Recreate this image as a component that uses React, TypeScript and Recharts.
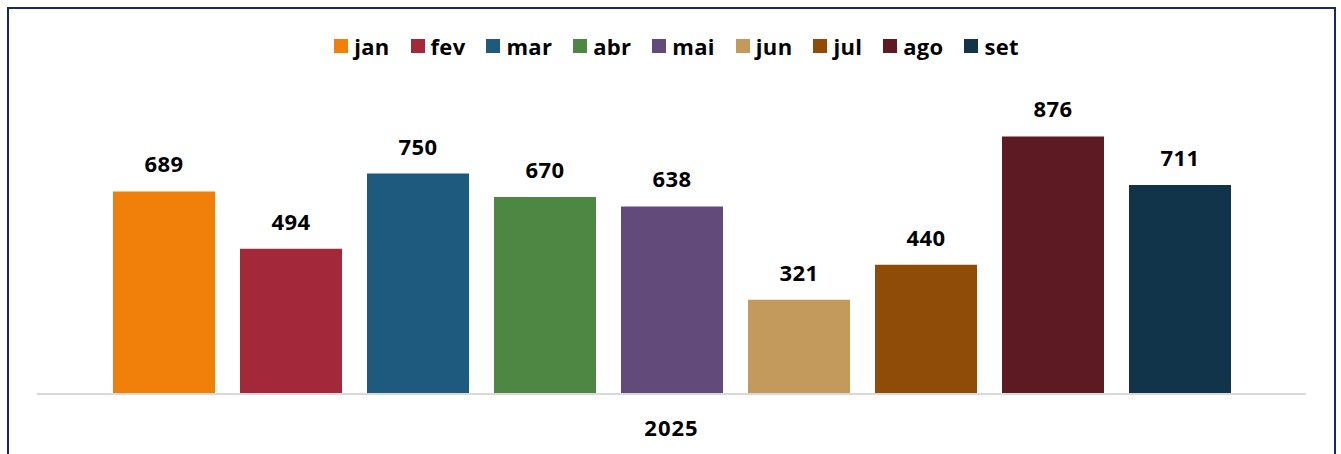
import React from 'react';
import { BarChart, Bar, XAxis, YAxis, Legend, LabelList } from 'recharts';

const months = ['jan', 'fev', 'mar', 'abr', 'mai', 'jun', 'jul', 'ago', 'set'];
const values = [689, 494, 750, 670, 638, 321, 440, 876, 711];
const colors = ['#f08009', '#a2283a', '#1e5a7e', '#4e8744', '#624a7a', '#c49a5c', '#8f4b08', '#5e1a22', '#12344b'];
const year = '2025';

const row: Record<string, string | number> = { year };
months.forEach((m, i) => {
  row[m] = values[i];
});
const data = [row];

const FONT = '"Open Sans", "Noto Sans", sans-serif';

const LegendRow = () => (
  <div style={{ display: 'flex', justifyContent: 'center', alignItems: 'center', height: 28, paddingLeft: 12 }}>
    {months.map((m, i) => (
      <div key={m} style={{ display: 'flex', alignItems: 'center', marginRight: i === months.length - 1 ? 0 : 21 }}>
        <span style={{ width: 14, height: 14, background: colors[i], display: 'inline-block', marginRight: 6 }} />
        <span style={{ fontFamily: FONT, fontWeight: 700, fontSize: 22, color: '#000', letterSpacing: 0.3 }}>{m}</span>
      </div>
    ))}
  </div>
);

const YearTick = ({ x, y, payload }: any) => (
  <text x={x} y={y + 34} textAnchor="middle" fontFamily={FONT} fontWeight={700} fontSize={22} letterSpacing={1} fill="#000">
    {payload.value}
  </text>
);

export default function App() {
  return (
    <div style={{ position: 'absolute', left: 0, top: 0, width: 1341, height: 454, overflow: 'hidden', background: '#fff' }}>
      <div
        style={{
          position: 'absolute',
          left: 7,
          top: 7,
          width: 1329,
          height: 480,
          border: '2px solid #13296b',
          boxSizing: 'border-box',
        }}
      />
      <div style={{ position: 'absolute', left: 0, top: 0 }}>
        <BarChart
          width={1341}
          height={454}
          data={data}
          margin={{ top: 72, right: 35, bottom: 0, left: 37 }}
          barGap={25}
        >
          <XAxis
            dataKey="year"
            height={60}
            tickLine={false}
            axisLine={{ stroke: '#d9d9d9', strokeWidth: 2 }}
            tick={<YearTick />}
          />
          <YAxis hide domain={[0, 1000]} />
          <Legend
            verticalAlign="top"
            content={<LegendRow />}
            wrapperStyle={{ top: 32, left: 0, width: 1341 }}
          />
          {months.map((m, i) => (
            <Bar key={m} dataKey={m} fill={colors[i]} barSize={102} isAnimationActive={false}>
              <LabelList
                dataKey={m}
                position="top"
                offset={19}
                fontFamily={FONT}
                fontWeight={700}
                fontSize={22}
                letterSpacing={0.5}
                fill="#000"
              />
            </Bar>
          ))}
        </BarChart>
      </div>
    </div>
  );
}
